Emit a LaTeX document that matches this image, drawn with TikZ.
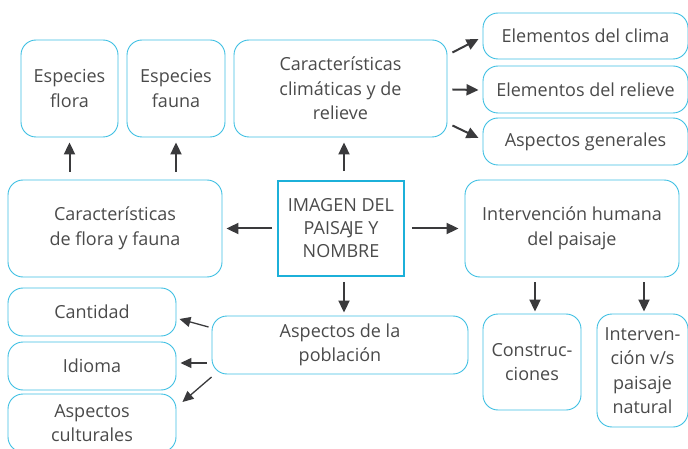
\documentclass[tikz,border=0pt]{standalone}
\usepackage{fontspec}
\setmainfont{Open Sans}
\usetikzlibrary{arrows.meta,calc}
\definecolor{cy}{HTML}{3DBFE2}
\definecolor{cyd}{HTML}{1CB0D9}
\definecolor{tx}{HTML}{4A4A4A}
\definecolor{ar}{HTML}{3A3A3C}
\begin{document}
\begin{tikzpicture}[x=1pt,y=-1pt,
  box/.style={draw=cy, line width=0.9pt, rounded corners=15pt, align=center, text=tx,
    font=\fontsize{18}{24.5}\selectfont, inner sep=0pt},
  mainbox/.style={box, draw=cyd, line width=1.8pt, rounded corners=0pt, font=\fontsize{18}{23}\selectfont},
  arr/.style={draw=ar, line width=2pt, -{Triangle[length=12pt,width=11pt]}},
  thinarr/.style={draw=ar, line width=1.3pt, -{Triangle[length=11pt,width=10pt]}}]
\useasboundingbox (0,0) rectangle (688,449);

% top row
\node[box, minimum width=97, minimum height=97] (flora) at (69.5,88.5) {Especies\\flora};
\node[box, minimum width=98, minimum height=97] (fauna) at (176,88.5) {Especies\\fauna};
\node[box, minimum width=213, minimum height=97] (clim) at (340.5,88.5) {Características\\climáticas y de\\relieve};
\node[box, minimum width=205, minimum height=46] (clima) at (585.5,36) {Elementos del clima};
\node[box, minimum width=205, minimum height=47] (relieve) at (585.5,89.5) {Elementos del relieve};
\node[box, minimum width=205, minimum height=47] (generales) at (585.5,141.5) {Aspectos generales};

% middle row
\node[box, minimum width=214, minimum height=97] (cff) at (115,228.5) {Características\\de flora y fauna};
\node[mainbox, minimum width=126, minimum height=95] (imagen) at (341,228.5) {IMAGEN DEL\\PAISA\kern-2.5pt JE Y\\NOMBRE};
\node[box, minimum width=214, minimum height=97] (human) at (572,228.5) {Intervención humana\\del paisaje};

% bottom
\node[box, minimum width=256, minimum height=58] (poblacion) at (340,345) {Aspectos de la\\población};
\node[box, minimum width=168, minimum height=48] (cantidad) at (92,312) {Cantidad};
\node[box, minimum width=168, minimum height=48] (idioma) at (92,366) {Idioma};
\node[box, minimum width=168, minimum height=58] (culturales) at (92,423) {Aspectos\\culturales};
\node[box, minimum width=98, minimum height=96] (constr) at (532,362) {Construc-\\ciones};
\node[box, minimum width=91, minimum height=113] (interv) at (642.5,370.5) {Interven-\\ción v/s\\paisaje\\natural};

% arrows up
\draw[arr] ($(flora.south |- cff.north)+(0,-8)$) -- ($(flora.south)+(0,5)$);
\draw[arr] ($(fauna.south |- cff.north)+(0,-8)$) -- ($(fauna.south)+(0,5)$);
\draw[arr] ($(imagen.north)+(3,-9)$) -- ($(clim.south)+(3.5,5)$);

% arrows from clim
\draw[arr] ($(clim.east)+(5,-36)$) -- ($(clima.west)+(-4,3)$);
\draw[arr] ($(clim.east)+(5,1)$) -- ($(relieve.west)+(-4,0.5)$);
\draw[arr] ($(clim.east)+(5,37)$) -- ($(generales.west)+(-4,-3.5)$);

% arrows from imagen
\draw[arr] ($(imagen.west)+(-5,0)$) -- ($(cff.east)+(4,0)$);
\draw[arr] ($(imagen.east)+(7,0)$) -- ($(human.west)+(-6,0)$);
\draw[arr] ($(imagen.south)+(3,5)$) -- ($(poblacion.north)+(4,-3)$);

% arrows from human
\draw[arr] ($(constr.north |- human.south)+(3,5)$) -- ($(constr.north)+(3,-2)$);
\draw[arr] ($(interv.north |- human.south)+(1.5,5)$) -- ($(interv.north)+(1.5,-2)$);

% arrows from poblacion
\draw[thinarr] ($(poblacion.west)+(-3,-18)$) -- ($(cantidad.east)+(3,7)$);
\draw[thinarr] ($(poblacion.west)+(-5,18)$) -- ($(idioma.east)+(4,-3)$);
\draw[thinarr] ($(poblacion.west)+(0,32)$) -- ($(culturales.east)+(6,-21)$);
\end{tikzpicture}
\end{document}
